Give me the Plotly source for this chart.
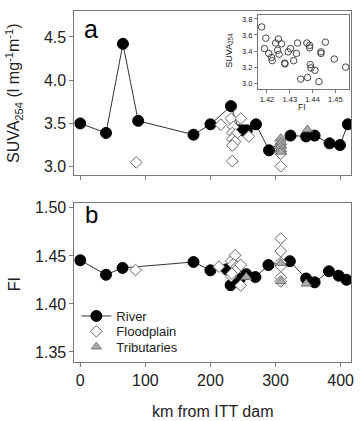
import plotly.graph_objects as go

# ---------------- data ----------------
# Panel a: SUVA254 along the river
km_river_a = [0, 39.6, 65.6, 89, 174, 200, 231.5, 244, 250, 256, 270, 290, 323, 347, 360, 383, 399, 411]
suva_river = [3.50, 3.39, 4.42, 3.53, 3.37, 3.49, 3.70, 3.42, 3.42, 3.42, 3.49, 3.19, 3.36, 3.35, 3.36, 3.27, 3.25, 3.49]

km_flood_a = [86, 216, 231.5, 246.8, 235, 233.6, 238.6, 233.6, 237.7, 233.6, 233.6, 259,
              308, 308, 308, 308, 308, 308]
suva_flood = [3.05, 3.485, 3.557, 3.557, 3.46, 3.39, 3.37, 3.32, 3.29, 3.245, 3.065, 3.35,
              3.30, 3.26, 3.22, 3.18, 3.15, 3.005]

km_trib_a = [308, 308, 308, 308, 308, 349]
suva_trib = [3.33, 3.28, 3.24, 3.20, 3.17, 3.43]

# Panel b: FI along the river
km_river_b = [0, 39.6, 65, 174, 200, 225, 231, 245, 255, 269, 289, 322, 347, 360, 382, 397, 409]
fi_river = [1.4455, 1.4304, 1.4375, 1.4437, 1.435, 1.436, 1.4195, 1.426, 1.431, 1.428, 1.4405,
            1.4445, 1.4265, 1.4225, 1.434, 1.4294, 1.4252]

km_flood_b = [85, 213, 232, 238, 235, 240, 232, 238, 246.5, 246.5, 233,
              308, 308, 308, 308, 308, 308]
fi_flood = [1.4353, 1.4388, 1.4448, 1.4507, 1.4413, 1.4385, 1.429, 1.4343, 1.4406, 1.4192, 1.4315,
            1.468, 1.455, 1.443, 1.4395, 1.4275, 1.4235]

km_trib_b = [255, 308, 308, 347]
fi_trib = [1.428, 1.4425, 1.4235, 1.421]

# Inset: SUVA254 vs FI
inset_fi = [1.4177, 1.4195, 1.4189, 1.4208, 1.4220, 1.4223, 1.4238, 1.4250, 1.4247, 1.4253,
            1.4264, 1.4278, 1.4279, 1.4293, 1.4303, 1.4317, 1.4329, 1.4334, 1.4348, 1.4375,
            1.4387, 1.4387, 1.4378, 1.4390, 1.4393, 1.4410, 1.4428, 1.4437, 1.4437, 1.4456,
            1.4495, 1.4545]
inset_suva = [3.70, 3.56, 3.43, 3.37, 3.32, 3.28, 3.50, 3.55, 3.41, 3.36,
              3.49, 3.25, 3.24, 3.39, 3.43, 3.28, 3.37, 3.50, 3.05, 3.50,
              3.47, 3.44, 3.07, 3.23, 3.19, 3.16, 3.02, 3.39, 3.37, 3.51,
              3.30, 3.20]

x_ticks = [0, 100, 200, 300, 400]

# ---------------- styles ----------------
FONT = "Liberation Sans, Arial, sans-serif"
W, H = 362, 421
frame = "#777777"
txt = "#222222"

river_marker = dict(symbol="circle", size=11, color="black", line=dict(color="black", width=1))
flood_marker = dict(symbol="diamond", size=9, color="white", line=dict(color="#666666", width=1))
trib_marker = dict(symbol="triangle-up", size=9, color="#aaaaaa", line=dict(color="#777777", width=1))
river_line = dict(color="#333333", width=1)

fig = go.Figure()

# Panel a
fig.add_trace(go.Scatter(x=km_river_a, y=suva_river, mode="lines+markers", line=river_line,
                         marker=river_marker, xaxis="x", yaxis="y", showlegend=False))
fig.add_trace(go.Scatter(x=km_flood_a, y=suva_flood, mode="markers", marker=flood_marker,
                         xaxis="x", yaxis="y", showlegend=False))
fig.add_trace(go.Scatter(x=km_trib_a, y=suva_trib, mode="markers", marker=trib_marker,
                         xaxis="x", yaxis="y", showlegend=False))

# Panel b
fig.add_trace(go.Scatter(x=km_river_b, y=fi_river, mode="lines+markers", line=river_line,
                         marker=river_marker, xaxis="x2", yaxis="y2", name="River",
                         legend="legend"))
fig.add_trace(go.Scatter(x=km_flood_b, y=fi_flood, mode="markers", marker=flood_marker,
                         xaxis="x2", yaxis="y2", name="Floodplain", legend="legend2"))
fig.add_trace(go.Scatter(x=km_trib_b, y=fi_trib, mode="markers", marker=trib_marker,
                         xaxis="x2", yaxis="y2", name="Tributaries", legend="legend3"))

# Inset
fig.add_trace(go.Scatter(x=inset_fi, y=inset_suva, mode="markers",
                         marker=dict(symbol="circle-open", size=6.5, color="#333333",
                                     line=dict(width=0.9)),
                         xaxis="x3", yaxis="y3", showlegend=False))


def px_x(p):
    return p / W


def px_y(p):
    return 1 - p / H


axis_common = dict(showline=True, linecolor=frame, linewidth=1, mirror=True,
                   ticks="outside", ticklen=4, tickcolor=frame, tickwidth=1,
                   showgrid=False, zeroline=False,
                   tickfont=dict(family=FONT, size=16, color=txt))


def legend_at(ypix):
    return dict(x=px_x(77), y=px_y(ypix), xanchor="left", yanchor="middle",
                bgcolor="rgba(0,0,0,0)", font=dict(family=FONT, size=13, color=txt),
                itemwidth=30)


fig.update_layout(
    width=W, height=H,
    margin=dict(l=0, r=0, t=0, b=0),
    paper_bgcolor="white", plot_bgcolor="white",
    font=dict(family=FONT, color=txt),
    xaxis=dict(axis_common, domain=[px_x(75), px_x(354)], range=[-9, 416],
               tickvals=x_ticks, showticklabels=False, anchor="y"),
    yaxis=dict(axis_common, domain=[px_y(173), px_y(7)], range=[2.9, 4.8],
               tickvals=[3.0, 3.5, 4.0, 4.5], ticktext=["3.0", "3.5", "4.0", "4.5"], anchor="x"),
    xaxis2=dict(axis_common, domain=[px_x(75), px_x(354)], range=[-9, 416],
                tickvals=x_ticks, anchor="y2"),
    yaxis2=dict(axis_common, domain=[px_y(361), px_y(201)], range=[1.34, 1.505],
                tickvals=[1.35, 1.40, 1.45, 1.50], ticktext=["1.35", "1.40", "1.45", "1.50"],
                anchor="x2"),
    xaxis3=dict(axis_common, domain=[px_x(260), px_x(352)], range=[1.416, 1.456],
                tickvals=[1.42, 1.43, 1.44, 1.45], ticklen=3,
                tickfont=dict(family=FONT, size=7.5, color=txt), anchor="y3"),
    yaxis3=dict(axis_common, domain=[px_y(86), px_y(11)], range=[2.925, 3.85],
                tickvals=[3.0, 3.2, 3.4, 3.6, 3.8], ticktext=["3.0", "3.2", "3.4", "3.6", "3.8"],
                ticklen=3, tickfont=dict(family=FONT, size=7.5, color=txt), anchor="x3"),
    legend=legend_at(315),
    legend2=legend_at(330.5),
    legend3=legend_at(346),
    showlegend=True,
)

annotations = [
    dict(text="a", x=px_x(92), y=px_y(25), xref="paper", yref="paper", showarrow=False,
         font=dict(family=FONT, size=25, color="black"), xanchor="center", yanchor="middle"),
    dict(text="b", x=px_x(92), y=px_y(213), xref="paper", yref="paper", showarrow=False,
         font=dict(family=FONT, size=24, color="black"), xanchor="center", yanchor="middle"),
    dict(text="SUVA<sub>254</sub> (l mg<sup>-1</sup>m<sup>-1</sup>)", x=px_x(14), y=px_y(90),
         xref="paper", yref="paper", showarrow=False, textangle=-90,
         font=dict(family=FONT, size=16, color=txt), xanchor="center", yanchor="middle"),
    dict(text="FI", x=px_x(14), y=px_y(283), xref="paper", yref="paper", showarrow=False,
         textangle=-90, font=dict(family=FONT, size=16, color=txt),
         xanchor="center", yanchor="middle"),
    dict(text="km from ITT dam", x=px_x(215), y=px_y(411), xref="paper", yref="paper",
         showarrow=False, font=dict(family=FONT, size=16, color=txt),
         xanchor="center", yanchor="middle"),
    dict(text="SUVA<sub>254</sub>", x=px_x(231), y=px_y(47), xref="paper", yref="paper",
         showarrow=False, textangle=-90, font=dict(family=FONT, size=9, color=txt),
         xanchor="center", yanchor="middle"),
    dict(text="FI", x=px_x(305), y=px_y(104), xref="paper", yref="paper", showarrow=False,
         font=dict(family=FONT, size=8.5, color=txt), xanchor="center", yanchor="middle"),
]
fig.update_layout(annotations=annotations)

fig.write_html("out.html")
